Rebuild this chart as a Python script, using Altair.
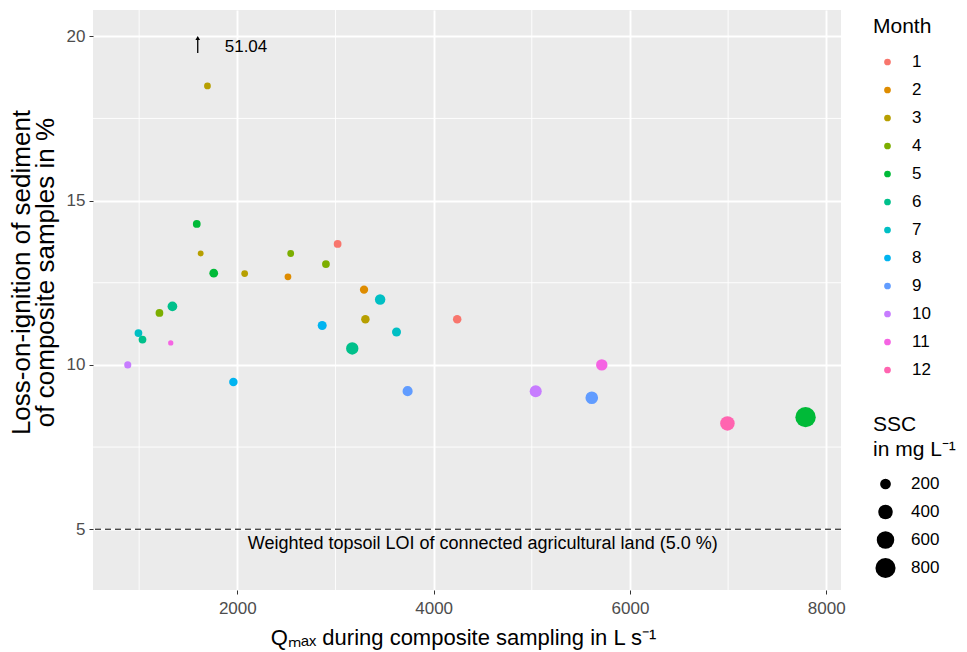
import altair as alt
import pandas as pd

# ---- data ----
q_max = [1696, 1587, 1627, 1760, 2075, 2516, 2544, 2903, 3022, 3291,
         3455, 3305, 4240, 3622, 2865, 3171, 3735, 1960, 1339, 1207,
         993, 1034, 1322, 884, 5713, 5040, 5611, 6993, 7789]
loi = [18.49, 14.29, 13.39, 12.79, 12.78, 12.68, 13.39, 13.07, 13.68, 12.29,
       11.99, 11.39, 11.39, 11.00, 11.20, 10.50, 9.20, 9.48, 11.78, 11.58,
       10.97, 10.77, 10.67, 10.00, 10.00, 9.20, 9.00, 8.22, 8.41]
month = [3, 5, 3, 5, 3, 2, 4, 4, 1, 2,
         7, 3, 1, 7, 8, 6, 9, 8, 6, 4,
         7, 6, 11, 10, 11, 10, 9, 12, 5]
ssc = [57, 87, 33, 121, 57, 57, 57, 87, 87, 105,
       188, 111, 111, 131, 131, 280, 175, 111, 158, 87,
       87, 87, 20, 66, 232, 263, 294, 400, 823]

months = [str(m) for m in range(1, 13)]
month_colors = ["#F8766D", "#DE8C00", "#B79F00", "#7CAE00", "#00BA38", "#00C08B",
                "#00BFC4", "#00B4F0", "#619CFF", "#C77CFF", "#F564E3", "#FF64B0"]
ssc_breaks = [200, 400, 600, 800]

x_major = [2000, 4000, 6000, 8000]
x_minor = [1000, 3000, 5000, 7000]
y_major = [5, 10, 15, 20]
y_minor = [7.5, 12.5, 17.5]

topsoil_loi = [5.0]
topsoil_label = ["Weighted topsoil LOI of connected agricultural land (5.0 %)"]
topsoil_label_x = [4500]
topsoil_label_y = [4.55]

outlier_x = [1597]
outlier_value = ["51.04"]
arrow_y_start = [19.49]
arrow_y_end = [19.95]
outlier_label_x = [1872]
outlier_label_y = [19.67]

X_DOMAIN = [530, 8150]
Y_DOMAIN = [3.15, 20.8]
FONT = "Liberation Sans"

df = pd.DataFrame({"q": q_max, "loi": loi, "month": [str(m) for m in month], "ssc": ssc})

xs = alt.Scale(domain=X_DOMAIN, nice=False, zero=False)
ys = alt.Scale(domain=Y_DOMAIN, nice=False, zero=False)

base_x_axis = alt.Axis(values=x_major, grid=True, gridColor="white", gridWidth=1.9,
                       title="Qₘₐₓ during composite sampling in L s⁻¹",
                       titleFontSize=22, titleFont=FONT, titleFontWeight="normal",
                       titleColor="black", titlePadding=11, titleX=370,
                       labelFontSize=17, labelFont=FONT, labelColor="#4D4D4D",
                       labelPadding=6, tickColor="#333333", tickSize=4, domain=False,
                       format="d")
base_y_axis = alt.Axis(values=y_major, grid=True, gridColor="white", gridWidth=1.9,
                       title=["Loss-on-ignition of sediment", "of composite samples in %"],
                       titleFontSize=26, titleFont=FONT, titleFontWeight="normal",
                       titleColor="black", titlePadding=8, titleLineHeight=24,
                       titleY=262,
                       labelFontSize=17, labelFont=FONT, labelColor="#4D4D4D",
                       labelPadding=4, tickColor="#333333", tickSize=4, domain=False)

minor_x = alt.Chart(pd.DataFrame({"v": x_minor})).mark_rule(
    color="white", strokeWidth=0.9).encode(
    x=alt.X("v:Q", scale=xs, axis=base_x_axis))
minor_y = alt.Chart(pd.DataFrame({"v": y_minor})).mark_rule(
    color="white", strokeWidth=0.9).encode(
    y=alt.Y("v:Q", scale=ys, axis=base_y_axis))

hline = alt.Chart(pd.DataFrame({"v": topsoil_loi})).mark_rule(
    color="black", strokeWidth=1, strokeDash=[6, 4]).encode(
    y=alt.Y("v:Q", scale=ys))

hlabel = alt.Chart(pd.DataFrame({"x": topsoil_label_x, "y": topsoil_label_y, "t": topsoil_label})).mark_text(
    font=FONT, fontSize=18, color="black", align="center", baseline="middle").encode(
    x=alt.X("x:Q", scale=xs), y=alt.Y("y:Q", scale=ys), text="t:N")

arrow_df = pd.DataFrame({"x": outlier_x, "y1": arrow_y_start, "y2": arrow_y_end})
arrow = alt.Chart(arrow_df).mark_rule(color="black", strokeWidth=1.3).encode(
    x=alt.X("x:Q", scale=xs), y=alt.Y("y1:Q", scale=ys), y2="y2:Q")
arrow_head = alt.Chart(arrow_df).mark_point(
    shape="triangle-up", filled=True, color="black", size=22, opacity=1).encode(
    x=alt.X("x:Q", scale=xs), y=alt.Y("y2:Q", scale=ys))
outlier_text = alt.Chart(pd.DataFrame({"x": outlier_label_x, "y": outlier_label_y, "t": outlier_value})).mark_text(
    font=FONT, fontSize=17, color="black", align="left", baseline="middle").encode(
    x=alt.X("x:Q", scale=xs), y=alt.Y("y:Q", scale=ys), text="t:N")

points = alt.Chart(df).mark_circle(opacity=1, strokeWidth=0).encode(
    x=alt.X("q:Q", scale=xs),
    y=alt.Y("loi:Q", scale=ys),
    color=alt.Color("month:N", scale=alt.Scale(domain=months, range=month_colors),
                    sort=months,
                    legend=alt.Legend(title="Month", orient="none", legendX=780, legendY=6,
                                      titleFontSize=21, titleFont=FONT, titleFontWeight="normal",
                                      titleColor="black", titlePadding=16,
                                      labelFontSize=17, labelFont=FONT, labelColor="black",
                                      labelOffset=16, symbolType="circle", symbolSize=45,
                                      symbolStrokeWidth=0, symbolOpacity=1, rowPadding=10,
                                      clipHeight=18, symbolOffset=6)),
    size=alt.Size("ssc:Q", scale=alt.Scale(domain=[20, 823], range=[28, 415], zero=False),
                  legend=alt.Legend(title=["SSC", "in mg L⁻¹"], orient="none",
                                    legendX=780, legendY=404, values=ssc_breaks,
                                    titleFontSize=21, titleFont=FONT, titleFontWeight="normal",
                                    titleColor="black", titlePadding=12, titleLineHeight=25,
                                    labelFontSize=17, labelFont=FONT, labelColor="black",
                                    labelOffset=15, symbolType="circle",
                                    symbolFillColor="black", symbolStrokeWidth=0,
                                    symbolOpacity=1, rowPadding=4, clipHeight=24,
                                    symbolOffset=2)),
    order=alt.Order("ssc:Q", sort="descending"),
)

chart = alt.layer(minor_x, minor_y, hline, hlabel, arrow, arrow_head, outlier_text, points).properties(
    width=748, height=580,
    background="white",
    autosize=alt.AutoSizeParams(type="none"),
    padding={"left": 93, "top": 10, "right": 126, "bottom": 62},
).configure_view(fill="#EBEBEB", strokeWidth=0)

chart.save("out.html", embed_options={"renderer": "svg", "actions": False})
